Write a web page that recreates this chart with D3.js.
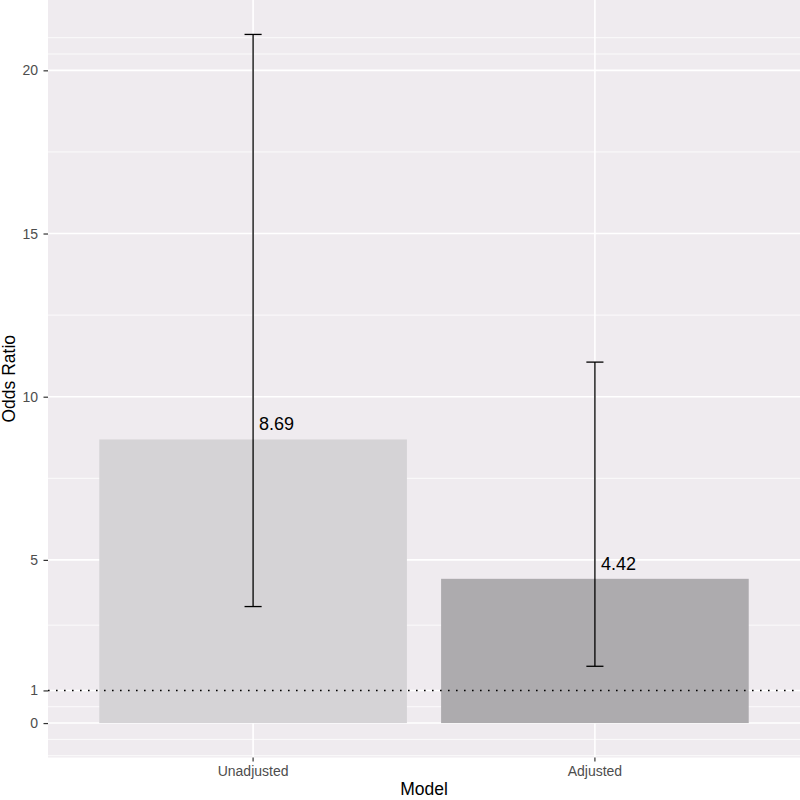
<!DOCTYPE html>
<html>
<head>
<meta charset="utf-8">
<script src="https://cdn.jsdelivr.net/npm/d3@7"></script>
<style>
  body { margin: 0; background: #fff; }
  svg { display: block; font-family: "Liberation Sans", Arial, sans-serif; }
</style>
</head>
<body>
<svg id="chart"></svg>
<script>
// data
let models = ["Unadjusted", "Adjusted"];
let oddsRatio = [8.69, 4.42];
let ciLow = [3.57, 1.74];
let ciHigh = [21.1, 11.06];
let yTicks = [0, 1, 5, 10, 15, 20];
let refLine = 1;

let width = 800;
let height = 800;
let panel = { left: 48, right: 800, top: 0, bottom: 757.5 };

let svg = d3.select("#chart").attr("width", width).attr("height", height);

// ggplot style 5% expansion on the continuous axis
let yMax = d3.max(ciHigh);
let pad = 0.05 * (yMax - 0);
let yScale = d3.scaleLinear()
  .domain([0 - pad, yMax + pad])
  .range([panel.bottom, panel.top]);

let xScale = d3.scaleBand()
  .domain(models)
  .range([panel.left, panel.right])
  .paddingInner(0.1)
  .paddingOuter(0.15);

let fill = d3.scaleOrdinal().domain(models).range(["#D5D3D6", "#ADABAE"]);

// minor breaks the way ggplot builds them (midpoints, extended by one step)
let minorBreaks = () => {
  let b = yTicks.slice();
  let bd = b[1] - b[0];
  let [lo, hi] = yScale.domain();
  if (lo < b[0]) b.unshift(b[0] - bd);
  if (hi > b[b.length - 1]) b.push(b[b.length - 1] + bd);
  let out = [];
  for (let i = 0; i < b.length - 1; i++) {
    out.push(b[i], (b[i] + b[i + 1]) / 2);
  }
  out.push(b[b.length - 1]);
  return out.filter(v => !yTicks.includes(v) && v >= lo && v <= hi);
};

// panel
svg.append("rect")
  .attr("x", panel.left)
  .attr("y", panel.top)
  .attr("width", panel.right - panel.left)
  .attr("height", panel.bottom - panel.top)
  .attr("fill", "#EFEBEF");

svg.append("g").selectAll("line")
  .data(minorBreaks())
  .enter().append("line")
  .attr("x1", panel.left).attr("x2", panel.right)
  .attr("y1", d => yScale(d)).attr("y2", d => yScale(d))
  .attr("stroke", "#fff").attr("stroke-width", 0.8);

svg.append("g").selectAll("line")
  .data(yTicks)
  .enter().append("line")
  .attr("x1", panel.left).attr("x2", panel.right)
  .attr("y1", d => yScale(d)).attr("y2", d => yScale(d))
  .attr("stroke", "#fff").attr("stroke-width", 1.6);

svg.append("g").selectAll("line")
  .data(models)
  .enter().append("line")
  .attr("x1", d => xScale(d) + xScale.bandwidth() / 2)
  .attr("x2", d => xScale(d) + xScale.bandwidth() / 2)
  .attr("y1", panel.top).attr("y2", panel.bottom)
  .attr("stroke", "#fff").attr("stroke-width", 1.6);

// bars
svg.append("g").selectAll("rect")
  .data(models)
  .enter().append("rect")
  .attr("x", d => xScale(d))
  .attr("width", xScale.bandwidth())
  .attr("y", (d, i) => yScale(oddsRatio[i]))
  .attr("height", (d, i) => yScale(0) - yScale(oddsRatio[i]))
  .attr("fill", d => fill(d));

// error bars
let capHalf = xScale.step() * 0.025;
let eb = svg.append("g").attr("stroke", "#000").attr("stroke-width", 1.3);
models.forEach((m, i) => {
  let cx = xScale(m) + xScale.bandwidth() / 2;
  eb.append("line")
    .attr("x1", cx).attr("x2", cx)
    .attr("y1", yScale(ciLow[i])).attr("y2", yScale(ciHigh[i]));
  [ciLow[i], ciHigh[i]].forEach(v => {
    eb.append("line")
      .attr("x1", cx - capHalf).attr("x2", cx + capHalf)
      .attr("y1", yScale(v)).attr("y2", yScale(v));
  });
});

// reference line at OR = 1
svg.append("line")
  .attr("x1", panel.left).attr("x2", panel.right)
  .attr("y1", yScale(refLine)).attr("y2", yScale(refLine))
  .attr("stroke", "#000")
  .attr("stroke-width", 1.6)
  .attr("stroke-dasharray", "1.6,6.4");

// value labels
svg.append("g").selectAll("text")
  .data(models)
  .enter().append("text")
  .attr("x", d => xScale(d) + xScale.bandwidth() / 2 + 6)
  .attr("y", (d, i) => yScale(oddsRatio[i]) - 9)
  .attr("font-size", 18)
  .attr("fill", "#000")
  .text((d, i) => oddsRatio[i].toFixed(2));

// axes
let yAxis = d3.axisLeft(yScale)
  .tickValues(yTicks)
  .tickSize(4.5)
  .tickPadding(5.5);

let yG = svg.append("g")
  .attr("transform", "translate(" + panel.left + ",0)")
  .call(yAxis);
yG.select(".domain").remove();
yG.selectAll("line").attr("stroke", "#333").attr("stroke-width", 1.2);
yG.selectAll("text").attr("fill", "#4D4D4D").attr("font-size", 14)
  .style("font-family", "'Liberation Sans', Arial, sans-serif");

let xAxis = d3.axisBottom(xScale)
  .tickSize(4)
  .tickPadding(4.5);

let xG = svg.append("g")
  .attr("transform", "translate(0," + panel.bottom + ")")
  .call(xAxis);
xG.select(".domain").remove();
xG.selectAll("line").attr("stroke", "#333").attr("stroke-width", 1.2);
xG.selectAll("text").attr("fill", "#4D4D4D").attr("font-size", 14)
  .style("font-family", "'Liberation Sans', Arial, sans-serif");

// titles
svg.append("text")
  .attr("x", (panel.left + panel.right) / 2)
  .attr("y", 795)
  .attr("text-anchor", "middle")
  .attr("font-size", 17.5)
  .attr("fill", "#000")
  .text("Model");

svg.append("text")
  .attr("transform", "translate(15," + ((panel.top + panel.bottom) / 2) + ") rotate(-90)")
  .attr("text-anchor", "middle")
  .attr("font-size", 17.5)
  .attr("fill", "#000")
  .text("Odds Ratio");
</script>
</body>
</html>
